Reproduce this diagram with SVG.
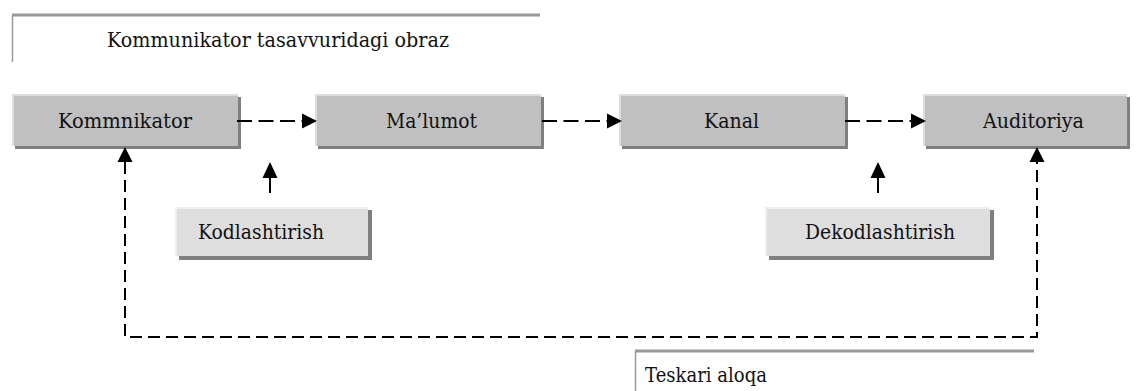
<svg xmlns="http://www.w3.org/2000/svg" width="1141" height="391" viewBox="0 0 1141 391">
<style>
  .lbl{font-family:'DejaVu Serif','Liberation Serif',serif;font-size:21px;fill:#111;}
  .shadow{fill:#7f7f7f;}
  .main{fill:#c0c0c0;}
  .light{fill:#dedede;}
  .hl{fill:none;stroke:#dcdcdc;stroke-width:2;}
  .hl2{fill:none;stroke:#efefef;stroke-width:2;}
  .frame{stroke:#999;fill:none;}
  .dash{stroke:#000;stroke-width:2;fill:none;stroke-dasharray:15 6.5;}
  .fb{stroke:#000;stroke-width:2;fill:none;stroke-dasharray:12 6;}
  .solid{stroke:#000;stroke-width:2;fill:none;}
  .head{fill:#000;}
</style>

<g id="title-frame">
  <line class="frame" x1="12" y1="15" x2="540" y2="15" stroke-width="3"/>
  <line class="frame" x1="12.5" y1="15" x2="12.5" y2="62" stroke-width="1.5"/>
  <text class="lbl" x="107" y="47" textLength="342" lengthAdjust="spacingAndGlyphs">Kommunikator tasavvuridagi obraz</text>
</g>

<g id="node-kommnikator">
  <rect class="shadow" x="15" y="97" width="226" height="52"/>
  <rect class="main" x="12" y="94" width="226" height="52"/>
  <polyline class="hl" points="13,146 13,95 238,95"/>
  <text class="lbl" x="58" y="128" textLength="134" lengthAdjust="spacingAndGlyphs">Kommnikator</text>
</g>

<g id="node-malumot">
  <rect class="shadow" x="318" y="97" width="226" height="52"/>
  <rect class="main" x="315" y="94" width="226" height="52"/>
  <polyline class="hl" points="316,146 316,95 541,95"/>
  <text class="lbl" x="386" y="128" textLength="91" lengthAdjust="spacingAndGlyphs">Ma’lumot</text>
</g>

<g id="node-kanal">
  <rect class="shadow" x="622" y="97" width="226" height="52"/>
  <rect class="main" x="619" y="94" width="226" height="52"/>
  <polyline class="hl" points="620,146 620,95 845,95"/>
  <text class="lbl" x="704" y="128" textLength="55" lengthAdjust="spacingAndGlyphs">Kanal</text>
</g>

<g id="node-auditoriya">
  <rect class="shadow" x="926" y="97" width="204" height="52"/>
  <rect class="main" x="923" y="94" width="204" height="52"/>
  <polyline class="hl" points="924,146 924,95 1127,95"/>
  <text class="lbl" x="983" y="128" textLength="101" lengthAdjust="spacingAndGlyphs">Auditoriya</text>
</g>

<g id="node-kodlashtirish">
  <rect class="shadow" x="179" y="210" width="193" height="50"/>
  <rect class="light" x="175" y="207" width="193" height="49"/>
  <polyline class="hl2" points="176,256 176,208 368,208"/>
  <text class="lbl" x="198" y="239" textLength="126" lengthAdjust="spacingAndGlyphs">Kodlashtirish</text>
</g>

<g id="node-dekodlashtirish">
  <rect class="shadow" x="769" y="210" width="225" height="50"/>
  <rect class="light" x="765" y="207" width="225" height="49"/>
  <polyline class="hl2" points="766,256 766,208 990,208"/>
  <text class="lbl" x="805" y="239" textLength="150" lengthAdjust="spacingAndGlyphs">Dekodlashtirish</text>
</g>

<g id="feedback-frame">
  <line class="frame" x1="635" y1="351" x2="1034" y2="351" stroke-width="3"/>
  <line class="frame" x1="635.5" y1="351" x2="635.5" y2="391" stroke-width="1.5"/>
  <text class="lbl" x="645" y="382" textLength="122" lengthAdjust="spacingAndGlyphs">Teskari aloqa</text>
</g>

<g id="connectors">
  <line class="dash" x1="237" y1="121" x2="302" y2="121"/>
  <polygon class="head" points="302,113.5 317,121 302,128.5"/>
  <line class="dash" x1="542" y1="121" x2="607" y2="121"/>
  <polygon class="head" points="607,113.5 622,121 607,128.5"/>
  <line class="dash" x1="845" y1="121" x2="911" y2="121"/>
  <polygon class="head" points="911,113.5 926,121 911,128.5"/>

  <line class="solid" x1="270" y1="193" x2="270" y2="177"/>
  <polygon class="head" points="262.5,178 270,162 277.5,178"/>
  <line class="solid" x1="878" y1="193" x2="878" y2="177"/>
  <polygon class="head" points="870.5,178 878,162 885.5,178"/>

  <path class="fb" d="M125,162 V337 H1037 V162"/>
  <polygon class="head" points="117.5,162 125,147 132.5,162"/>
  <polygon class="head" points="1029.5,162 1037,147 1044.5,162"/>
</g>
</svg>
